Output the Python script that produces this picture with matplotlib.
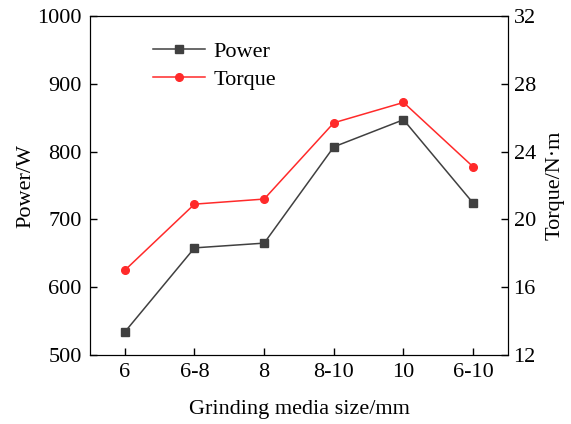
import matplotlib.pyplot as plt

plt.rcParams['font.family'] = 'Liberation Serif'
plt.rcParams['font.size'] = 16

# Data
sizes = ["6", "6-8", "8", "8-10", "10", "6-10"]
power = [534, 658, 665, 807, 847, 724]
torque = [17.0, 20.9, 21.2, 25.7, 26.9, 23.1]

fig = plt.figure(figsize=(5.71, 4.24), dpi=100)
ax = fig.add_axes([90 / 571, 69 / 424, 418 / 571, 339 / 424])
ax2 = ax.twinx()

x = range(len(sizes))
l1, = ax.plot(x, power, color='#404040', marker='s', markersize=5.5, linewidth=1.1, label='Power')
l2, = ax2.plot(x, torque, color='#ff2a2a', marker='o', markersize=5.5, linewidth=1.1, label='Torque')

ax.set_xlim(-0.5, 5.5)
ax.set_ylim(500, 1000)
ax2.set_ylim(12, 32)
ax.set_xticks(list(x))
ax.set_xticklabels(sizes)
ax.set_yticks(range(500, 1001, 100))
ax2.set_yticks(range(12, 33, 4))

ax.tick_params(direction='in', length=5, width=1, top=False, right=False, pad=6)
ax2.tick_params(direction='in', length=5, width=1, pad=4)

ax.set_xlabel("Grinding media size/mm", labelpad=13)
ax.set_ylabel("Power/W", labelpad=1)
ax2.set_ylabel("Torque/N·m", labelpad=7)

ax.legend(handles=[l1, l2], loc='upper left', bbox_to_anchor=(0.12, 0.965),
          frameon=False, handlelength=2.3, handletextpad=0.4, labelspacing=0.35,
          borderaxespad=0.2)

fig.savefig("out.png", dpi=100)
